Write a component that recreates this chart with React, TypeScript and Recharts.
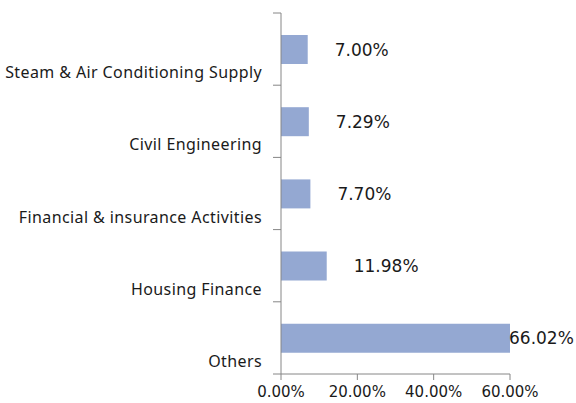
import React from 'react';
import { BarChart, Bar, XAxis, YAxis, LabelList } from 'recharts';

const categories = [
  'Steam & Air Conditioning Supply',
  'Civil Engineering',
  'Financial & insurance Activities',
  'Housing Finance',
  'Others',
];
const shares = [7.0, 7.29, 7.7, 11.98, 66.02];
const xTicks = [0, 20, 40, 60];

const data = categories.map((name, i) => ({ name, value: shares[i] }));

const W = 576;
const H = 403;
const MARGIN = { top: 13, right: 66, bottom: 0, left: 0 };
const Y_AXIS_W = 281;
const X_AXIS_H = 29;
const AXIS_X = MARGIN.left + Y_AXIS_W;
const PLOT_RIGHT = W - MARGIN.right;
const PLOT_BOTTOM = H - MARGIN.bottom - X_AXIS_H;
const BAND = (PLOT_BOTTOM - MARGIN.top) / categories.length;
const AXIS_COLOR = '#868686';

const CatTick = (props: any) => {
  const { y, payload, index } = props;
  return (
    <g>
      {index === 0 && (
        <line x1={AXIS_X - 8} x2={AXIS_X} y1={y - BAND / 2} y2={y - BAND / 2} stroke={AXIS_COLOR} />
      )}
      <line x1={AXIS_X - 8} x2={AXIS_X} y1={y + BAND / 2} y2={y + BAND / 2} stroke={AXIS_COLOR} />
      <text
        x={AXIS_X - 19}
        y={y + 23}
        textAnchor="end"
        dominantBaseline="central"
        fontFamily="'Noto Sans', sans-serif"
        fontSize={16}
        letterSpacing={0.4}
        fill="#1a1a1a"
      >
        {payload.value}
      </text>
    </g>
  );
};

const ValueLabel = (props: any) => {
  const { x, y, width, height, value } = props;
  const end = Number(x) + Number(width);
  const lx = end > PLOT_RIGHT ? PLOT_RIGHT - 1 : end + 27;
  return (
    <text
      x={lx}
      y={Number(y) + Number(height) / 2}
      dominantBaseline="central"
      textAnchor="start"
      fontFamily="'DejaVu Sans', sans-serif"
      fontSize={17}
      fill="#1a1a1a"
    >
      {Number(value).toFixed(2) + '%'}
    </text>
  );
};

export default function App() {
  return (
    <div style={{ position: 'absolute', left: 0, top: 0, width: W, height: H, background: '#fff' }}>
      <BarChart layout="vertical" width={W} height={H} data={data} margin={MARGIN} barSize={29}>
        <XAxis
          type="number"
          domain={[0, 60]}
          ticks={xTicks}
          allowDataOverflow
          height={X_AXIS_H}
          tickSize={6}
          tickMargin={6}
          stroke={AXIS_COLOR}
          tickFormatter={(v: number) => v.toFixed(2) + '%'}
          tick={{ fill: '#1a1a1a', fontSize: 15, fontFamily: "'DejaVu Sans', sans-serif" }}
        />
        <YAxis
          type="category"
          dataKey="name"
          width={Y_AXIS_W}
          stroke={AXIS_COLOR}
          tickLine={false}
          tick={<CatTick />}
          interval={0}
        />
        <Bar dataKey="value" fill="#94A8D2" isAnimationActive={false}>
          <LabelList dataKey="value" content={<ValueLabel />} />
        </Bar>
      </BarChart>
    </div>
  );
}
